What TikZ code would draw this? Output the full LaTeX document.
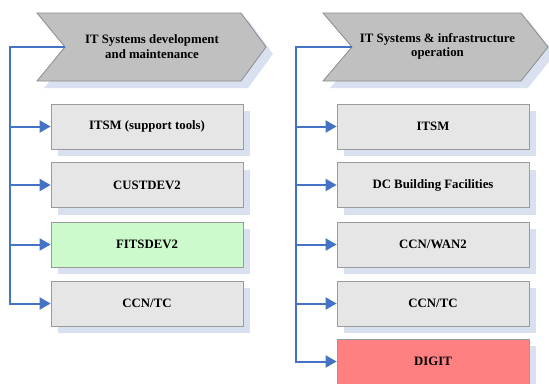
\documentclass[tikz,border=0pt]{standalone}
\usepackage{fontspec}
\setmainfont{Liberation Serif}
\usetikzlibrary{arrows.meta,shadows,calc}
\definecolor{shadowc}{HTML}{D9E1F1}
\definecolor{boxfill}{HTML}{E6E6E6}
\definecolor{boxline}{HTML}{9A9A9A}
\definecolor{chevfill}{HTML}{C0C0C0}
\definecolor{chevline}{HTML}{8C8C8C}
\definecolor{linkblue}{HTML}{4472C4}
\definecolor{greenfill}{HTML}{CCFACC}
\definecolor{redfill}{HTML}{FF8080}
\tikzset{
  itembox/.style={draw=boxline, line width=0.8pt, fill=boxfill, minimum width=192pt, minimum height=45pt, inner sep=0pt,
    font=\fontsize{12.8}{15}\selectfont\bfseries,
    drop shadow={shadow xshift=7pt, shadow yshift=-7pt, fill=shadowc, opacity=1}},
  chevron/.style={draw=chevline, line width=0.8pt, fill=chevfill},
  chevshadow/.style={fill=shadowc},
  chevtext/.style={align=center, font=\fontsize{12.8}{14.5}\selectfont\bfseries, inner sep=0pt},
  link/.style={draw=linkblue, line width=2pt},
  linkarrow/.style={link, -{Triangle[length=11pt,width=12pt]}}
}
\begin{document}
\begin{tikzpicture}[x=1pt,y=-1pt]
\useasboundingbox (0,0) rectangle (549,383);
% left chevron
\fill[chevshadow] (44,20) -- (248,20) -- (273,54) -- (248,88) -- (44,88) -- (72,54) -- cycle;
\draw[chevron] (37,13) -- (241,13) -- (266,47) -- (241,81) -- (37,81) -- (65,47) -- cycle;
\coordinate (notchL) at (65,47);
\node[chevtext] (chevL) at (152,46.5) {IT Systems development\\and maintenance};
% right chevron
\fill[chevshadow] (330,20) -- (528,20) -- (555,54) -- (528,88) -- (330,88) -- (359,54) -- cycle;
\draw[chevron] (323,13) -- (521,13) -- (548,47) -- (521,81) -- (323,81) -- (352,47) -- cycle;
\coordinate (notchR) at (352,47);
\node[chevtext] (chevR) at (437.5,46.5) {IT Systems \& infrastructure\\operation};
% left boxes
\node[itembox] (l1) at (147,126.5) {ITSM (support tools)};
\node[itembox] (l2) at (147,185) {CUSTDEV2};
\node[itembox, fill=greenfill] (l3) at (147,244.5) {FITSDEV2};
\node[itembox] (l4) at (147,303.5) {CCN/TC};
% right boxes
\node[itembox] (r1) at (433,126.5) {ITSM};
\node[itembox] (r2) at (433,185) {DC Building Facilities};
\node[itembox] (r3) at (433,244.5) {CCN/WAN2};
\node[itembox] (r4) at (433,303.5) {CCN/TC};
\node[itembox, fill=redfill] (r5) at (433,361.5) {DIGIT};
% left connectors
\coordinate (spineL) at (10,47);
\draw[linkarrow] (notchL) -- (spineL) |- (l4.west);
\draw[linkarrow] (spineL |- l1.west) -- (l1.west);
\draw[linkarrow] (spineL |- l2.west) -- (l2.west);
\draw[linkarrow] (spineL |- l3.west) -- (l3.west);
% right connectors
\coordinate (spineR) at (296,47);
\draw[linkarrow] (notchR) -- (spineR) |- (r5.west);
\draw[linkarrow] (spineR |- r1.west) -- (r1.west);
\draw[linkarrow] (spineR |- r2.west) -- (r2.west);
\draw[linkarrow] (spineR |- r3.west) -- (r3.west);
\draw[linkarrow] (spineR |- r4.west) -- (r4.west);
\end{tikzpicture}
\end{document}
